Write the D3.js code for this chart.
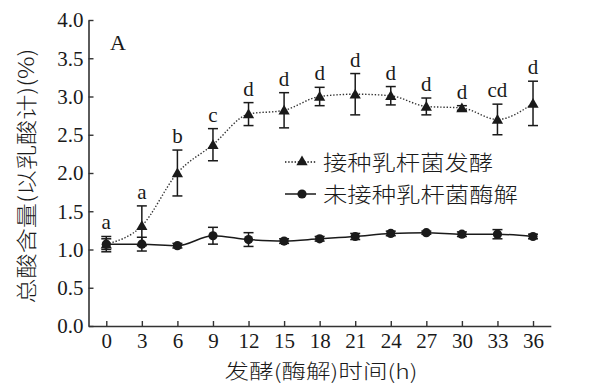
<!DOCTYPE html>
<html><head><meta charset="utf-8">
<script src="https://cdn.jsdelivr.net/npm/d3@7"></script>
<style>body{margin:0;background:#fff}</style>
</head><body>
<svg id="c" width="599" height="392"></svg>
<script>
const hours = [0,3,6,9,12,15,18,21,24,27,30,33,36];
const inoculated = [1.07,1.31,2.00,2.37,2.77,2.82,3.00,3.03,3.01,2.87,2.85,2.70,2.91];
const inoculatedErr = [0.10,0.26,0.30,0.21,0.15,0.23,0.12,0.27,0.12,0.11,0.03,0.20,0.29];
const sigLetters = ["a","a","b","c","d","d","d","d","d","d","d","cd","d"];
const control = [1.07,1.07,1.05,1.18,1.13,1.11,1.14,1.17,1.21,1.22,1.20,1.20,1.17];
const controlErr = [0.07,0.09,0.03,0.11,0.09,0.03,0.03,0.04,0.03,0.02,0.03,0.06,0.03];
const yTicks = [0,0.5,1.0,1.5,2.0,2.5,3.0,3.5,4.0];
const seriesNames = ["接种乳杆菌发酵","未接种乳杆菌酶解"];
const yTitle = "总酸含量(以乳酸计)(%)";
const xTitle = "发酵(酶解)时间(h)";

const svg = d3.select("#c");
const x = d3.scaleLinear().domain([-1.5,37.5]).range([88.5,550.8]);
const y = d3.scaleLinear().domain([0,4]).range([326,20]);
const ink = "#1a1a1a";
const serif = "'Liberation Serif','Times New Roman',serif";
const cjk = "'Noto Sans CJK SC','Noto Sans CJK JP',sans-serif";

// axes
const xAxis = svg.append("g").attr("transform","translate(0,326)")
  .call(d3.axisBottom(x).tickValues(hours).tickSizeInner(-5).tickSizeOuter(0).tickPadding(9));
const yAxis = svg.append("g").attr("transform","translate(88.5,0)")
  .call(d3.axisLeft(y).tickValues(yTicks).tickFormat(d3.format(".1f")).tickSizeInner(-5).tickSizeOuter(0).tickPadding(5));
[xAxis,yAxis].forEach(g=>{
  g.attr("font-family",null).attr("font-size",null);
  g.select(".domain").attr("stroke","#333").attr("stroke-width",1.6);
  g.selectAll(".tick line").attr("stroke","#333").attr("stroke-width",1.4);
  g.selectAll("text").style("font-family",serif).style("font-size","21px").attr("fill",ink);
});
xAxis.selectAll(".tick text").attr("dy","0.6em");
yAxis.selectAll(".tick text").attr("dy","0.33em");

// lines
const line = d3.line().x((d,i)=>x(hours[i])).y(d=>y(d)).curve(d3.curveMonotoneX);
svg.append("path").datum(control).attr("d",line).attr("fill","none")
  .attr("stroke",ink).attr("stroke-width",1.5);
svg.append("path").datum(inoculated).attr("d",line).attr("fill","none")
  .attr("stroke","#333").attr("stroke-width",1.4).attr("stroke-dasharray","1.4,1.8");

function errBars(vals, errs){
  const g = svg.append("g").attr("stroke",ink).attr("stroke-width",1.5);
  vals.forEach((v,i)=>{
    const cx = x(hours[i]), t = y(v+errs[i]), b = y(v-errs[i]);
    g.append("line").attr("x1",cx).attr("x2",cx).attr("y1",t).attr("y2",b);
    g.append("line").attr("x1",cx-5).attr("x2",cx+5).attr("y1",t).attr("y2",t);
    g.append("line").attr("x1",cx-5).attr("x2",cx+5).attr("y1",b).attr("y2",b);
  });
}
errBars(inoculated, inoculatedErr);
errBars(control, controlErr);

const tri = d3.symbol().type(d3.symbolTriangle).size(55);
svg.append("g").selectAll("path").data(inoculated).join("path")
  .attr("d",tri).attr("transform",(d,i)=>`translate(${x(hours[i])},${y(d)+1})`).attr("fill",ink);
svg.append("g").selectAll("circle").data(control).join("circle")
  .attr("cx",(d,i)=>x(hours[i])).attr("cy",d=>y(d)).attr("r",4.6).attr("fill",ink);

// significance letters
svg.append("g").selectAll("text").data(sigLetters).join("text")
  .attr("x",(d,i)=>x(hours[i])).attr("y",(d,i)=>y(inoculated[i]+inoculatedErr[i])-7)
  .attr("text-anchor","middle").style("font-family",serif).style("font-size","21px").attr("fill",ink)
  .text(d=>d);

// panel label
svg.append("text").attr("x",110).attr("y",50).style("font-family",serif).style("font-size","22px")
  .attr("fill",ink).text("A");

// legend
const leg = [{y:162, dash:"1.4,1.8", sym:"tri"},{y:194, dash:null, sym:"circ"}];
const lens = [170,195];
leg.forEach((l,i)=>{
  svg.append("line").attr("x1",285).attr("x2",316).attr("y1",l.y).attr("y2",l.y)
    .attr("stroke",ink).attr("stroke-width",1.5).attr("stroke-dasharray",l.dash);
  if(l.sym==="tri") svg.append("path").attr("d",tri).attr("transform",`translate(302,${l.y})`).attr("fill",ink);
  else svg.append("circle").attr("cx",302).attr("cy",l.y).attr("r",4.6).attr("fill",ink);
  svg.append("text").attr("x",323).attr("y",l.y).attr("dy","0.36em")
    .style("font-family",cjk).attr("font-weight",300).style("font-size","21px").attr("fill",ink)
    .attr("textLength",lens[i]).attr("lengthAdjust","spacingAndGlyphs").text(seriesNames[i]);
});

// axis titles
svg.append("text").attr("x",321).attr("y",372).attr("dy","0.36em").attr("text-anchor","middle")
  .style("font-family",cjk).attr("font-weight",300).style("font-size","20px").attr("fill",ink)
  .attr("textLength",193).attr("lengthAdjust","spacingAndGlyphs").text(xTitle);
svg.append("text").attr("transform","translate(26,176) rotate(-90)").attr("dy","0.36em")
  .attr("text-anchor","middle").style("font-family",cjk).attr("font-weight",300).style("font-size","21px")
  .attr("fill",ink).attr("textLength",255).attr("lengthAdjust","spacingAndGlyphs").text(yTitle);
</script>
</body></html>
